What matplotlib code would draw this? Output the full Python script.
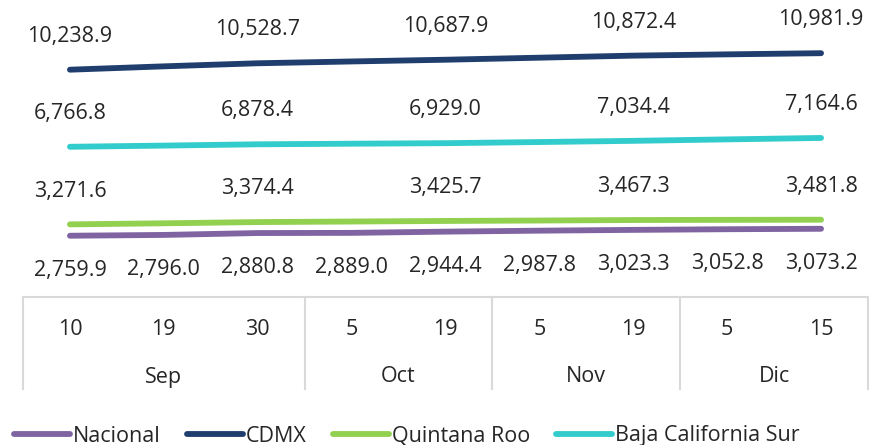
import matplotlib.pyplot as plt

plt.rcParams['font.family'] = ['Open Sans', 'DejaVu Sans']

# Fechas de corte (eje de categorías en dos niveles)
days = ['10', '19', '30', '5', '19', '5', '19', '5', '15']
months = ['Sep', 'Oct', 'Nov', 'Dic']
month_sizes = [3, 2, 2, 2]

# Series (miles); los puntos sin etiqueta son estimados
nacional = [2759.9, 2796.0, 2880.8, 2889.0, 2944.4, 2987.8, 3023.3, 3052.8, 3073.2]
cdmx = [10238.9, 10390.0, 10528.7, 10610.0, 10687.9, 10780.0, 10872.4, 10930.0, 10981.9]
quintana_roo = [3271.6, 3320.0, 3374.4, 3400.0, 3425.7, 3445.0, 3467.3, 3475.0, 3481.8]
baja_cs = [6766.8, 6820.0, 6878.4, 6905.0, 6929.0, 6980.0, 7034.4, 7100.0, 7164.6]

series = [
    ('Nacional', nacional, '#8064A2', 'below', 1),
    ('CDMX', cdmx, '#1F3E6E', 'above', 2),
    ('Quintana Roo', quintana_roo, '#92D050', 'above', 2),
    ('Baja California Sur', baja_cs, '#33CCCC', 'above', 2),
]

TEXT = '#262626'
GRID = '#D9D9D9'
FS = 15.5

W, H = 869, 445
fig = plt.figure(figsize=(W / 100, H / 100), dpi=100, facecolor='white')
ax_left, ax_right = 23 / W, 868 / W
ax_bottom, ax_top = 1 - 297 / H, 1 - 8.4 / H
ax = fig.add_axes([ax_left, ax_bottom, ax_right - ax_left, ax_top - ax_bottom])

x = list(range(len(days)))
for name, vals, color, where, step in series:
    ax.plot(x, vals, color=color, linewidth=4.2, solid_capstyle='round', label=name)
    for i in range(0, len(vals), step):
        dy = 24 if where == 'above' else -25
        ax.annotate(f'{vals[i]:,.1f}', (x[i], vals[i]), xytext=(0, dy),
                    textcoords='offset points', ha='center', va='center',
                    fontsize=FS, color=TEXT)

ax.set_xlim(-0.5, len(days) - 0.5)
ax.set_ylim(0, 13000)
ax.set_yticks([])
for s in ax.spines.values():
    s.set_visible(False)

# Eje de categorías: días arriba, meses abajo, con divisiones
ax.set_xticks(x)
ax.set_xticklabels(days, fontsize=FS, color=TEXT)
ax.tick_params(axis='x', length=0, pad=16)

tr = ax.get_xaxis_transform()
ax_h = 297 - 8.4
box_depth = -92 / ax_h
ax.plot([-0.5, len(days) - 0.5], [0, 0], color=GRID, linewidth=1.5,
        transform=tr, clip_on=False)
edge = -0.5
ax.plot([edge, edge], [0, box_depth], color=GRID, linewidth=1.5,
        transform=tr, clip_on=False)
for m, n in zip(months, month_sizes):
    ax.text(edge + n / 2, -80 / ax_h, m, transform=tr, ha='center', va='center',
            fontsize=FS, color=TEXT)
    edge += n
    ax.plot([edge, edge], [0, box_depth], color=GRID, linewidth=1.5,
            transform=tr, clip_on=False)

fig.legend(loc='center left', bbox_to_anchor=(14 / W, 1 - 436 / H), ncol=4,
           frameon=False, fontsize=FS, handlelength=2.6, handletextpad=0.15,
           columnspacing=1.2, borderpad=0, borderaxespad=0, labelcolor=TEXT)

fig.savefig('out.png', dpi=100, facecolor='white')
